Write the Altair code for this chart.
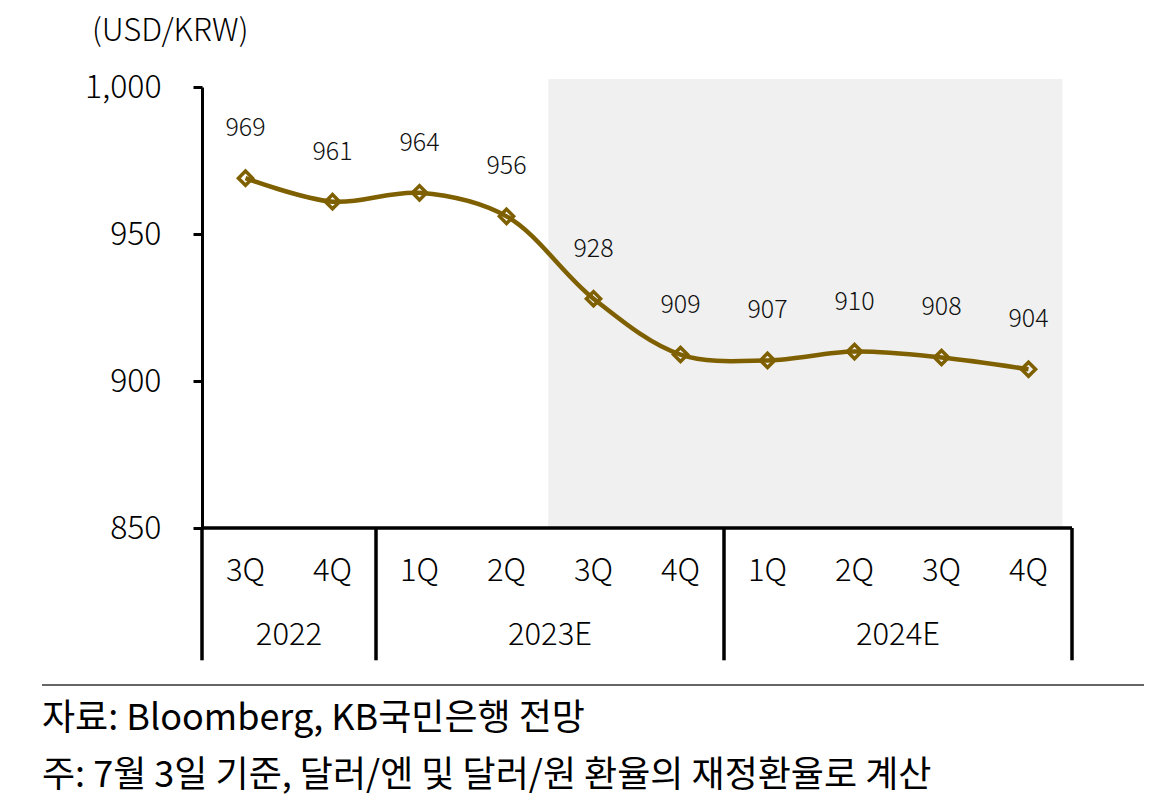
import altair as alt
import pandas as pd

quarters = ["3Q", "4Q", "1Q", "2Q", "3Q", "4Q", "1Q", "2Q", "3Q", "4Q"]
values = [969, 961, 964, 956, 928, 909, 907, 910, 908, 904]
years = ["2022", "2023E", "2024E"]
year_centers = [0.5, 3.5, 7.5]
year_separators = [-0.5, 1.5, 5.5, 9.5]
y_ticks = [850, 900, 950, 1000]
forecast_start, forecast_end = 3.48, 9.39

FONT = "Noto Sans CJK KR"
LINE = "#7F6000"
W = 300

df = pd.DataFrame({"i": list(range(len(values))), "q": quarters, "v": values})
ydf = pd.DataFrame({"x": year_centers, "year": years})
sdf = pd.DataFrame({"x": year_separators})
shade = pd.DataFrame({"x": [forecast_start], "x2": [forecast_end], "y": [850], "y2": [1002.7]})

xs = alt.Scale(domain=[-0.5, 9.5], nice=False, zero=False)
ys = alt.Scale(domain=[850, 1000], nice=False, zero=False)
yaxis = alt.Axis(
    values=y_ticks, format=",d", title=None, grid=False,
    domainColor="black", domainWidth=3, tickColor="black", tickWidth=3, tickSize=9,
    labelFont=FONT, labelFontSize=32, labelFontWeight=W, labelColor="black", labelPadding=32,
)

rect = alt.Chart(shade).mark_rect(color="#F0F0F0", clip=False).encode(
    x=alt.X("x:Q", scale=xs, axis=None), x2="x2:Q",
    y=alt.Y("y:Q", scale=ys, axis=yaxis), y2="y2:Q",
)

base = alt.Chart(df)
line = base.mark_line(color=LINE, strokeWidth=4.5, interpolate="catmull-rom").encode(
    x=alt.X("i:Q", scale=xs, axis=None),
    y=alt.Y("v:Q", scale=ys, axis=yaxis),
)
points = base.mark_point(shape="diamond", size=200, filled=False, color=LINE,
                         strokeWidth=3.5, opacity=1).encode(
    x=alt.X("i:Q", scale=xs, axis=None), y=alt.Y("v:Q", scale=ys, axis=yaxis))
labels = base.mark_text(font=FONT, fontSize=25, fontWeight=W, color="#111", dy=-50, baseline="middle").encode(
    x=alt.X("i:Q", scale=xs, axis=None), y=alt.Y("v:Q", scale=ys, axis=yaxis), text="v:Q")

bottom = alt.Chart(pd.DataFrame({"x": [-0.5], "x2": [9.5], "y": [850]})).mark_rule(
    color="black", strokeWidth=3.5, clip=False).encode(
    x=alt.X("x:Q", scale=xs, axis=None), x2="x2:Q", y=alt.Y("y:Q", scale=ys, axis=yaxis))

seps = alt.Chart(sdf).mark_rule(color="black", strokeWidth=3.5, clip=False).encode(
    x=alt.X("x:Q", scale=xs, axis=None), y=alt.datum(850, scale=ys, axis=yaxis), y2=alt.datum(805))

qlabels = base.mark_text(font=FONT, fontSize=31, fontWeight=W, color="black", baseline="middle", clip=False).encode(
    x=alt.X("i:Q", scale=xs, axis=None), y=alt.datum(835, scale=ys, axis=yaxis), text="q:N")
ylabels = alt.Chart(ydf).mark_text(font=FONT, fontSize=31, fontWeight=W, color="black", baseline="middle", clip=False).encode(
    x=alt.X("x:Q", scale=xs, axis=None), y=alt.datum(813.3, scale=ys, axis=yaxis), text="year:N")

unit = alt.Chart(pd.DataFrame({"t": ["(USD/KRW)"]})).mark_text(
    font=FONT, fontSize=31, fontWeight=W, color="black", align="left", baseline="middle").encode(
    x=alt.value(-110), y=alt.value(-55), text="t:N")

sep_line = alt.Chart(pd.DataFrame({"a": [0]})).mark_rule(color="#333", strokeWidth=1.5).encode(
    x=alt.value(-160), x2=alt.value(946), y=alt.value(598))

notes = alt.Chart(pd.DataFrame({
    "t": ["자료: Bloomberg, KB국민은행 전망", "주: 7월 3일 기준, 달러/엔 및 달러/원 환율의 재정환율로 계산"],
    "yy": [632, 689]})).mark_text(font=FONT, fontSize=36, color="black", align="left", baseline="middle").encode(
    x=alt.value(-160), y=alt.Y("yy:Q", scale=None, axis=None), text="t:N")

chart = alt.layer(rect, line, points, labels, bottom, seps, qlabels, ylabels, unit, sep_line, notes).properties(
    width=870, height=441,
    autosize=alt.AutoSizeParams(type="none"),
    padding={"left": 194, "top": 79, "right": 72, "bottom": 269},
).configure(background="white").configure_view(stroke=None, strokeWidth=0)

chart.save("out.html", embed_options={"renderer": "svg", "actions": False})
